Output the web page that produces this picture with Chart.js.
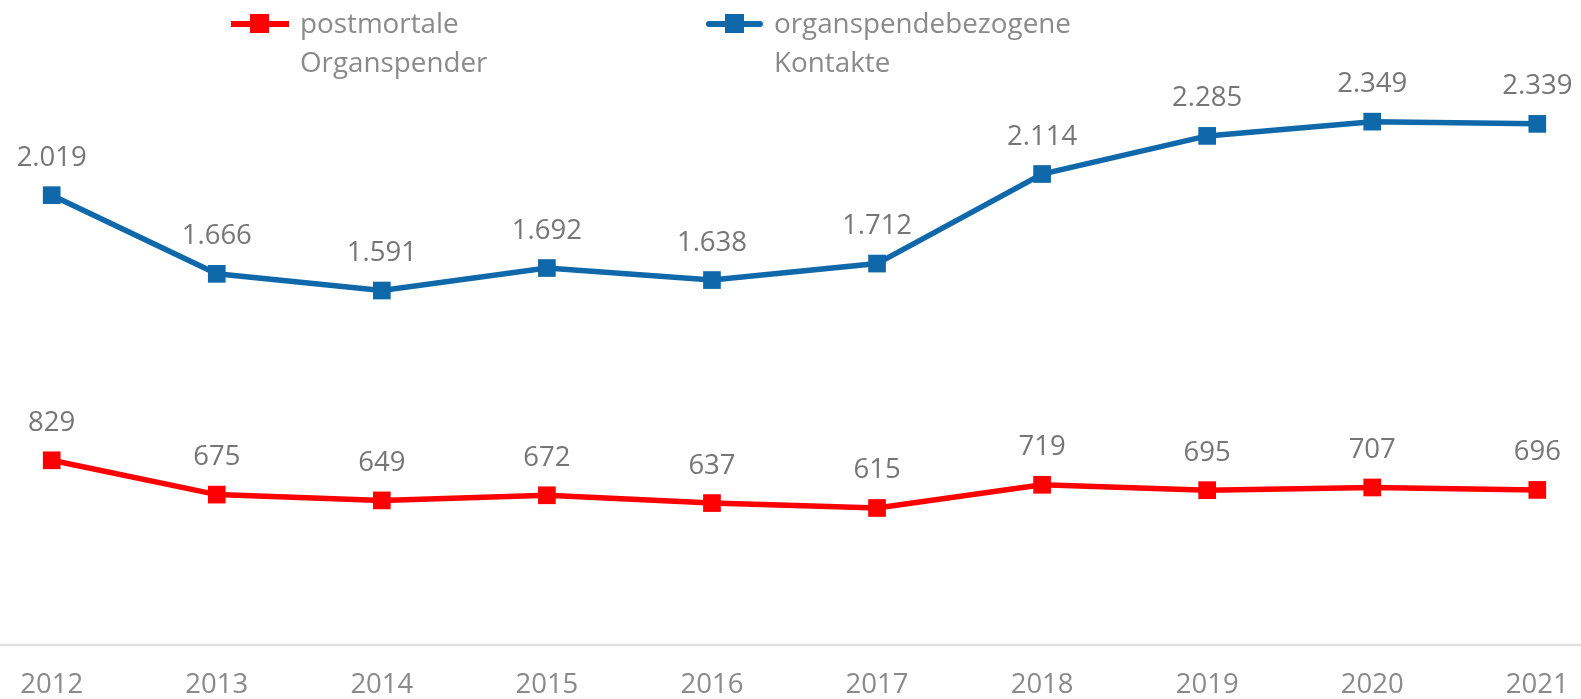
<!DOCTYPE html>
<html>
<head>
<meta charset="utf-8">
<script src="https://cdn.jsdelivr.net/npm/chart.js@4/dist/chart.umd.min.js"></script>
<style>
  html, body { margin: 0; padding: 0; background: #ffffff; }
  #wrap { position: relative; width: 1581px; height: 699px; overflow: hidden; }
  canvas { position: absolute; left: 0; top: 0; }
  .leg { position: absolute; font-family: "Open Sans", sans-serif; font-size: 27.8px; line-height: 39px; color: #8a8a8a; white-space: nowrap; }
  .lline { position: absolute; height: 6px; }
  .lsq { position: absolute; width: 19px; height: 19px; }
</style>
</head>
<body>
<div id="wrap">
  <canvas id="c" width="1581" height="699"></canvas>
  <div class="lline" style="left:231px; top:20.5px; width:58px; background:#ff0000;"></div>
  <div class="lsq" style="left:250px; top:14px; background:#ff0000;"></div>
  <div class="leg" style="left:300px; top:3px;">postmortale<br>Organspender</div>
  <div class="lline" style="left:706px; top:20.5px; width:57px; background:#0e68aa; border-radius:3px;"></div>
  <div class="lsq" style="left:725px; top:14px; background:#0e68aa;"></div>
  <div class="leg" style="left:774px; top:3px;">organspendebezogene<br>Kontakte</div>
</div>
<script>
const years = ["2012", "2013", "2014", "2015", "2016", "2017", "2018", "2019", "2020", "2021"];
const organspender = [829, 675, 649, 672, 637, 615, 719, 695, 707, 696];
const kontakte = [2019, 1666, 1591, 1692, 1638, 1712, 2114, 2285, 2349, 2339];
const seriesNames = ["postmortale Organspender", "organspendebezogene Kontakte"];

function fmtDE(v) {
  return String(v).replace(/\B(?=(\d{3})+(?!\d))/g, ".");
}

const axisLinePlugin = {
  id: "axisLine",
  beforeDatasetsDraw(chart) {
    const ctx = chart.ctx;
    const y = chart.scales.y.getPixelForValue(0);
    ctx.save();
    ctx.strokeStyle = "#e0e0e0";
    ctx.lineWidth = 2.6;
    ctx.beginPath();
    ctx.moveTo(0, y);
    ctx.lineTo(chart.width, y);
    ctx.stroke();
    ctx.restore();
  }
};

const labelPlugin = {
  id: "valueLabels",
  afterDatasetsDraw(chart) {
    const ctx = chart.ctx;
    ctx.save();
    ctx.font = "27.5px 'Open Sans'";
    ctx.fillStyle = "#767676";
    ctx.textAlign = "center";
    ctx.textBaseline = "alphabetic";
    chart.data.datasets.forEach((ds, i) => {
      const meta = chart.getDatasetMeta(i);
      meta.data.forEach((pt, j) => {
        ctx.fillText(fmtDE(ds.data[j]), pt.x, pt.y - 29.5);
      });
    });
    ctx.restore();
  }
};

new Chart(document.getElementById("c"), {
  type: "line",
  data: {
    labels: years,
    datasets: [
      {
        label: seriesNames[0],
        data: organspender,
        borderColor: "#ff0000",
        backgroundColor: "#ff0000",
        borderWidth: 5.5,
        pointStyle: "rect",
        pointRadius: 12.5,
        pointHoverRadius: 12.5,
        pointBorderWidth: 0,
        tension: 0,
        clip: false
      },
      {
        label: seriesNames[1],
        data: kontakte,
        borderColor: "#0e68aa",
        backgroundColor: "#0e68aa",
        borderWidth: 5.5,
        pointStyle: "rect",
        pointRadius: 12.5,
        pointHoverRadius: 12.5,
        pointBorderWidth: 0,
        tension: 0,
        clip: false
      }
    ]
  },
  options: {
    responsive: false,
    animation: false,
    devicePixelRatio: 1,
    layout: { autoPadding: false, padding: { left: 51.7, right: 43.7, top: 88, bottom: 0 } },
    plugins: {
      legend: { display: false },
      tooltip: { enabled: false }
    },
    scales: {
      x: {
        offset: false,
        grid: { display: false, drawTicks: false },
        border: { display: false },
        ticks: {
          color: "#8a8a8a",
          font: { family: "'Open Sans'", size: 27.5 },
          padding: 24,
          maxRotation: 0,
          autoSkip: false
        },
        afterFit(scale) { scale.height = 54; scale.paddingLeft = 0; scale.paddingRight = 0; }
      },
      y: {
        display: false,
        min: 0,
        max: 2500
      }
    }
  },
  plugins: [axisLinePlugin, labelPlugin]
});
</script>
</body>
</html>
